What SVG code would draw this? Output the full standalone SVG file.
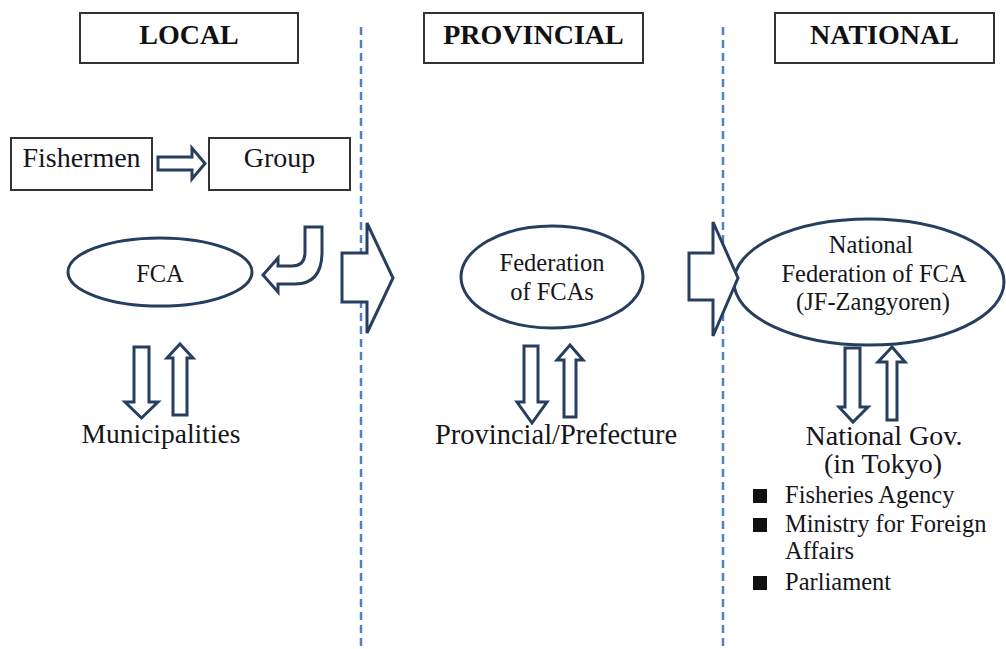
<svg xmlns="http://www.w3.org/2000/svg" width="1006" height="649" viewBox="0 0 1006 649" font-family="Liberation Serif">
<style>
.box{fill:#fff;stroke:#333;stroke-width:2}
.title{font-weight:bold;font-size:28px;fill:#111;text-anchor:middle}
.t{fill:#15151c}
.c{text-anchor:middle}
.ell{fill:#fff;stroke:#263f5f;stroke-width:3}
.arr{fill:#fff;stroke:#263f5f;stroke-width:3;stroke-linejoin:miter}
.dash{stroke:#4f82c4;stroke-width:2.5;stroke-dasharray:8 5;fill:none}
.bul{fill:#111}
</style>
<rect width="1006" height="649" fill="#fff"/>
<g id="dividers">
<line class="dash" x1="361" y1="27" x2="361" y2="649"/>
<line class="dash" x1="723" y1="27" x2="723" y2="649"/>
</g>
<g id="local-header"><rect class="box" x="80" y="13" width="218" height="50"/><text class="title" x="189" y="44" font-family="Liberation Serif">LOCAL</text></g>
<g id="provincial-header"><rect class="box" x="424" y="13" width="219" height="50"/><text class="title" x="533.5" y="44" font-family="Liberation Serif">PROVINCIAL</text></g>
<g id="national-header"><rect class="box" x="775" y="13" width="219" height="50"/><text class="title" x="884.5" y="44" font-family="Liberation Serif">NATIONAL</text></g>
<g id="fishermen"><rect class="box" x="11" y="138" width="141" height="52"/><text class="t c" x="81.5" y="167" font-family="Liberation Serif" font-size="28">Fishermen</text></g>
<g id="group"><rect class="box" x="209" y="138" width="141" height="52"/><text class="t c" x="279.5" y="167" font-family="Liberation Serif" font-size="28">Group</text></g>
<g id="fca"><ellipse class="ell" cx="160" cy="272" rx="92" ry="34"/><text class="t c" x="160" y="282" font-family="Liberation Serif" font-size="24.5">FCA</text></g>
<g id="federation"><ellipse class="ell" cx="552" cy="277" rx="91" ry="51"/><text class="t c" x="552" y="271" font-family="Liberation Serif" font-size="24.5">Federation</text><text class="t c" x="552" y="300" font-family="Liberation Serif" font-size="24.5">of FCAs</text></g>
<g id="national-federation"><ellipse class="ell" cx="869" cy="282" rx="135" ry="63"/><text class="t c" x="871" y="253" font-family="Liberation Serif" font-size="24.5">National</text><text class="t c" x="874" y="282" font-family="Liberation Serif" font-size="24.5">Federation of FCA</text><text class="t c" x="873" y="310" font-family="Liberation Serif" font-size="24.5">(JF-Zangyoren)</text></g>
<g id="municipalities"><text class="t c" x="161" y="443" font-family="Liberation Serif" font-size="27.5">Municipalities</text></g>
<g id="prefecture"><text class="t c" x="556" y="444" font-family="Liberation Serif" font-size="28.5">Provincial/Prefecture</text></g>
<g id="national-gov">
<text class="t c" x="884" y="445" font-family="Liberation Serif" font-size="28">National Gov.</text>
<text class="t c" x="883" y="473" font-family="Liberation Serif" font-size="28">(in Tokyo)</text>
<rect class="bul" x="753" y="489" width="14" height="14"/>
<text class="t" x="785" y="503" font-family="Liberation Serif" font-size="24.5">Fisheries Agency</text>
<rect class="bul" x="753" y="518" width="14" height="14"/>
<text class="t" x="785" y="532" font-family="Liberation Serif" font-size="24.5">Ministry for Foreign</text>
<text class="t" x="785" y="559" font-family="Liberation Serif" font-size="24.5">Affairs</text>
<rect class="bul" x="753" y="576" width="14" height="14"/>
<text class="t" x="785" y="590" font-family="Liberation Serif" font-size="24.5">Parliament</text>
</g>
<g id="connectors">
<path class="arr" d="M158,157 H192 V148 L205,163.5 L192,179 V170 H158 Z" stroke-width="2.5"/>
<path class="arr" d="M305,227 H322 V252 Q322,284 295,284 H278 V292 L263,275 L278,258 V266 H292 Q305,266 305,252 Z" stroke-width="2.5"/>
<path class="arr" d="M342,253 H367 V223 L393,278 L367,333 V302 H342 Z"/>
<path class="arr" d="M689,253 H713 V222 L738,278 L713,336 V300 H689 Z"/>
<path class="arr" d="M134,347 H149 V402 H158 L141.5,418 L125,402 H134 Z" stroke-width="2.5"/>
<path class="arr" d="M180,344 L193,358 H187 V415 H173 V358 H167 Z" stroke-width="2.5"/>
<path class="arr" d="M524,346 H538 V402 H547 L532,423 L517,402 H524 Z" stroke-width="2.5"/>
<path class="arr" d="M570,345 L583,360 H576 V417 H564 V360 H557 Z" stroke-width="2.5"/>
<path class="arr" d="M845,348 H860 V407 H868 L853,422 L839,407 H845 Z" stroke-width="2.5"/>
<path class="arr" d="M892,347 L905,362 H897 V420 H887 V362 H878 Z" stroke-width="2.5"/>
</g>
</svg>
